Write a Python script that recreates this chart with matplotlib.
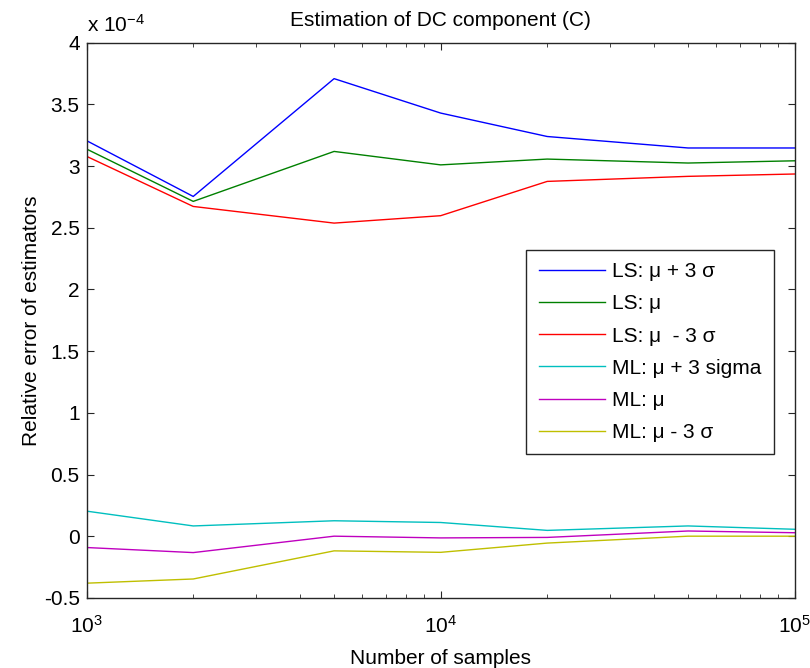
import matplotlib
matplotlib.use('Agg')
import matplotlib.pyplot as plt
import numpy as np

# reglages style matlab
plt.rcParams['font.family'] = ['Liberation Sans', 'DejaVu Sans']
plt.rcParams['mathtext.fontset'] = 'custom'
plt.rcParams['mathtext.rm'] = 'Liberation Sans'
plt.rcParams['mathtext.it'] = 'Liberation Sans'
plt.rcParams['axes.unicode_minus'] = False

# donnees (erreur relative en unites de 1e-4)
n_samples = [1000, 2000, 5000, 10000, 20000, 50000, 100000]
ls_plus = [3.206, 2.754, 3.709, 3.43, 3.24, 3.147, 3.147]
ls_mean = [3.138, 2.714, 3.119, 3.01, 3.057, 3.025, 3.043]
ls_minus = [3.079, 2.673, 2.538, 2.598, 2.876, 2.917, 2.936]
ml_plus = [0.203, 0.083, 0.125, 0.111, 0.047, 0.083, 0.056]
ml_mean = [-0.092, -0.133, 0.0, -0.014, -0.01, 0.042, 0.028]
ml_minus = [-0.381, -0.347, -0.119, -0.131, -0.056, 0.0, 0.0]

labels = ['LS: μ + 3 σ', 'LS: μ', 'LS: μ  - 3 σ',
          'ML: μ + 3 sigma', 'ML: μ', 'ML: μ - 3 σ']
colors = ['#0000ff', '#008000', '#ff0000', '#00bfbf', '#bf00bf', '#bfbf00']
fs = 15

fig = plt.figure(figsize=(8.1, 6.68), dpi=100)
ax = fig.add_axes([0.107, 0.105, 0.874, 0.831])

series = [ls_plus, ls_mean, ls_minus, ml_plus, ml_mean, ml_minus]
for vals, lab, col in zip(series, labels, colors):
    ax.plot(n_samples, vals, color=col, linewidth=1.0, label=lab)

ax.set_xscale('log')
ax.set_xlim(1e3, 1e5)
ax.set_ylim(-0.5, 4)
ax.set_yticks(np.arange(-0.5, 4.01, 0.5))
ax.set_yticklabels(['-0.5', '0', '0.5', '1', '1.5', '2', '2.5', '3', '3.5', '4'])
ax.tick_params(which='both', direction='in', top=True, right=True, labelsize=fs,
               colors='#262626', labelcolor='black')
ax.tick_params(which='major', length=5)
ax.tick_params(which='minor', length=3)
ax.tick_params(axis='y', which='major', pad=5)
ax.tick_params(axis='x', which='major', pad=12)
for s in ax.spines.values():
    s.set_linewidth(1.0)
    s.set_color('#262626')

ax.set_title('Estimation of DC component (C)', fontsize=fs, pad=12)
ax.set_xlabel('Number of samples', fontsize=fs, labelpad=9)
ax.set_ylabel('Relative error of estimators', fontsize=fs, labelpad=2)
ax.text(0.0, 1.012, r'x 10$^{\mathrm{-}4}$', transform=ax.transAxes, fontsize=fs,
        ha='left', va='bottom')

leg = ax.legend(loc='upper left', bbox_to_anchor=(0.621, 0.627), fontsize=fs,
                frameon=True, fancybox=False, framealpha=1, edgecolor='#262626',
                handlelength=3.2, handletextpad=0.3, labelspacing=0.63,
                borderpad=0.6, borderaxespad=0)
leg.get_frame().set_linewidth(1.0)

fig.savefig('out.png', dpi=100)
